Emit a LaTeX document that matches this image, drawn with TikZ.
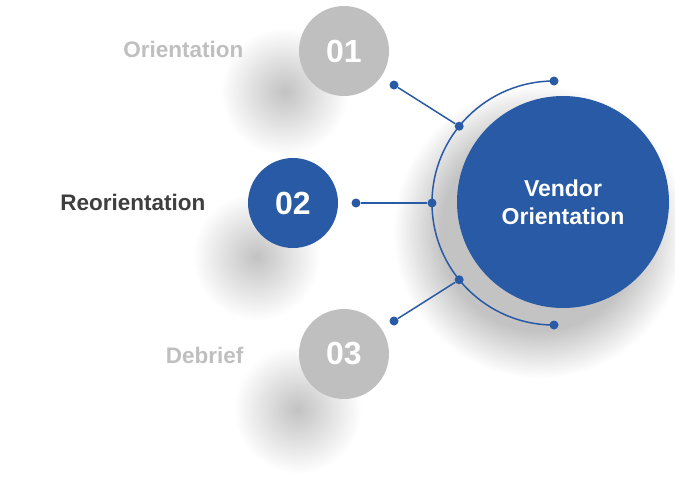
\documentclass[tikz,border=0pt]{standalone}
\usepackage{fontspec}
\setmainfont{Liberation Sans}
\usetikzlibrary{calc}
\definecolor{vblue}{HTML}{295AA5}
\definecolor{vgray}{HTML}{BFBFBF}
\definecolor{vdark}{HTML}{3F3F3F}

\begin{document}
\begin{tikzpicture}[x=1pt, y=-1pt,
  num/.style={circle, minimum size=90pt, inner sep=0pt, text=white,
              font=\bfseries\fontsize{32}{36}\selectfont},
  hub/.style={circle, minimum size=212pt, inner sep=0pt, fill=vblue, text=white,
              align=center, font=\bfseries\fontsize{23}{28}\selectfont},
  lbl/.style={anchor=east, font=\bfseries\fontsize{22.5}{26}\selectfont},
  wire/.style={vblue, line width=1.5pt},
  dot/.style={circle, fill=vblue, inner sep=0pt, minimum size=9pt},
  haze/.style={black, opacity=#1}
]
\useasboundingbox (0,0) rectangle (675,480);
% ---------------- soft shadows ----------------
\foreach \x/\y in {285/92, 257/257, 298/410}
  \foreach \k in {1,...,30}
    \fill[haze=.008] (\x,\y) circle ({2.1*\k});
\foreach \k in {1,...,30}
  \fill[haze=.0065] (540,232) circle ({98+1.6*\k});
% ---------------- hub ----------------
\node[hub] (hub) at (563,202) {Vendor\\Orientation};
\coordinate (ac) at (554,203);
\draw[wire] (ac) ++(-90:122) coordinate (top)
  arc[start angle=-90, end angle=-270, radius=122] coordinate (bot);
\node[dot] (topdot) at (top) {};
\node[dot] (botdot) at (bot) {};
\node[dot] (a1) at ($(ac)+(-141:122)$) {};
\node[dot] (a2) at ($(ac)+(180:122)$) {};
\node[dot] (a3) at ($(ac)+(141:122)$) {};
% ---------------- steps ----------------
\node[num, fill=vgray] (c1) at (344,51) {01};
\node[num, fill=vblue] (c2) at (293,203) {02};
\node[num, fill=vgray] (c3) at (344,354) {03};
\node[lbl, text=vgray] (l1) at (247,49) {Orientation};
\node[lbl, text=vdark] (l2) at (209,202) {Reorientation};
\node[lbl, text=vgray] (l3) at (247,355) {Debrief};
\node[dot] (o1) at (394,85) {};
\node[dot] (o2) at (356,203) {};
\node[dot] (o3) at (394,321) {};
\draw[wire] (o1) -- (a1);
\draw[wire] (o2) -- (a2);
\draw[wire] (o3) -- (a3);
\end{tikzpicture}
\end{document}
